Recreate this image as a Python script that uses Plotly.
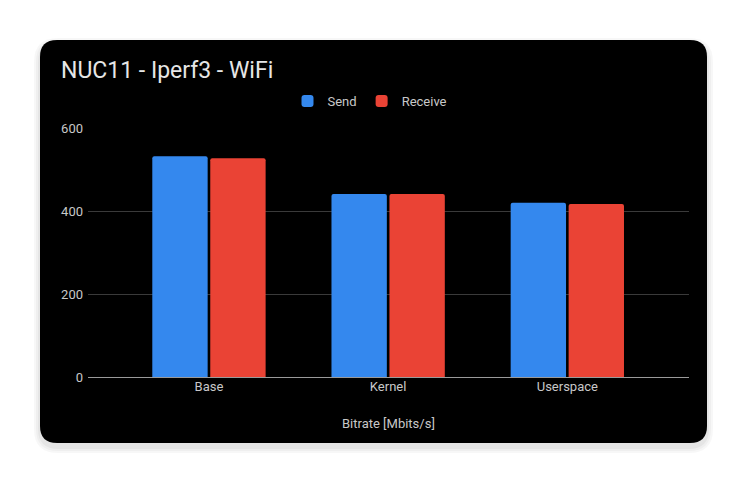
import plotly.graph_objects as go

categories = ["Base", "Kernel", "Userspace"]
send = [532, 441, 420]
receive = [527, 441, 417]
y_ticks = [0, 200, 400, 600]

OFF = 8  # browser body margin
W, H = 750 - OFF, 492 - OFF
L, R, T, B = 88 - OFF, 689 - OFF, 128 - OFF, 377 - OFF  # plot area in figure pixels


def px(x):
    return (x - OFF - L) / (R - L)


def py(y):
    return (B - (y - OFF)) / (B - T)


def rrect(x0, y0, x1, y1, r):
    return (
        f"M {px(x0 + r)},{py(y0)} L {px(x1 - r)},{py(y0)} "
        f"Q {px(x1)},{py(y0)} {px(x1)},{py(y0 + r)} "
        f"L {px(x1)},{py(y1 - r)} Q {px(x1)},{py(y1)} {px(x1 - r)},{py(y1)} "
        f"L {px(x0 + r)},{py(y1)} Q {px(x0)},{py(y1)} {px(x0)},{py(y1 - r)} "
        f"L {px(x0)},{py(y0 + r)} Q {px(x0)},{py(y0)} {px(x0 + r)},{py(y0)} Z"
    )


fig = go.Figure()
fig.add_trace(go.Bar(name="Send", x=categories, y=send, marker_color="#3488EE",
                     marker_line_width=0))
fig.add_trace(go.Bar(name="Receive", x=categories, y=receive, marker_color="#EA4335",
                     marker_line_width=0))

shapes = []
# soft shadow
for i, a in enumerate([0.03, 0.03, 0.04]):
    d = 6 - 2 * i
    shapes.append(dict(type="path", xref="paper", yref="paper",
                       path=rrect(40 - d, 44 - d, 707 + d, 443 + d + 4, 18 + d),
                       fillcolor=f"rgba(0,0,0,{a})", line_width=0, layer="below"))
shapes.append(dict(type="path", xref="paper", yref="paper",
                   path=rrect(40, 40, 707, 443, 17),
                   fillcolor="#000000", line_width=0, layer="below"))

fig.update_layout(
    width=W, height=H,
    margin=dict(l=L, r=W - R, t=T, b=H - B, pad=0),
    paper_bgcolor="#ffffff",
    plot_bgcolor="rgba(0,0,0,0)",
    font=dict(family="Roboto, Arial, sans-serif", size=13, color="#c8c8c8"),
    barmode="group",
    bargap=0.353,
    bargroupgap=0.045,
    barcornerradius=2,
    shapes=shapes,
    showlegend=True,
    legend=dict(orientation="h", x=px(370), xanchor="center", y=py(101), yanchor="middle",
                bgcolor="rgba(0,0,0,0)", font=dict(size=13, color="#c8c8c8"),
                itemwidth=30),
    xaxis=dict(range=[-0.675, 2.679], showgrid=False, zeroline=False, showline=False,
               ticks="", tickfont=dict(size=13, color="#c8c8c8"), fixedrange=True),
    yaxis=dict(range=[0, 600], tickvals=y_ticks, showgrid=True, gridcolor="#3a3a3a",
               gridwidth=1, zeroline=True, zerolinecolor="#9a9a9a", zerolinewidth=1,
               showline=False, ticks="", tickfont=dict(size=13, color="#c8c8c8"),
               ticklabelstandoff=4),
    annotations=[
        dict(text="NUC11 - Iperf3 - WiFi", xref="paper", yref="paper",
             x=px(59), y=py(70), xanchor="left", yanchor="middle", showarrow=False,
             font=dict(size=23, color="#e6e6e6")),
        dict(text="Bitrate [Mbits/s]", xref="paper", yref="paper",
             x=px(388), y=py(423), xanchor="center", yanchor="middle", showarrow=False,
             font=dict(size=13, color="#c8c8c8")),
    ],
)

fig.write_html("out.html")
